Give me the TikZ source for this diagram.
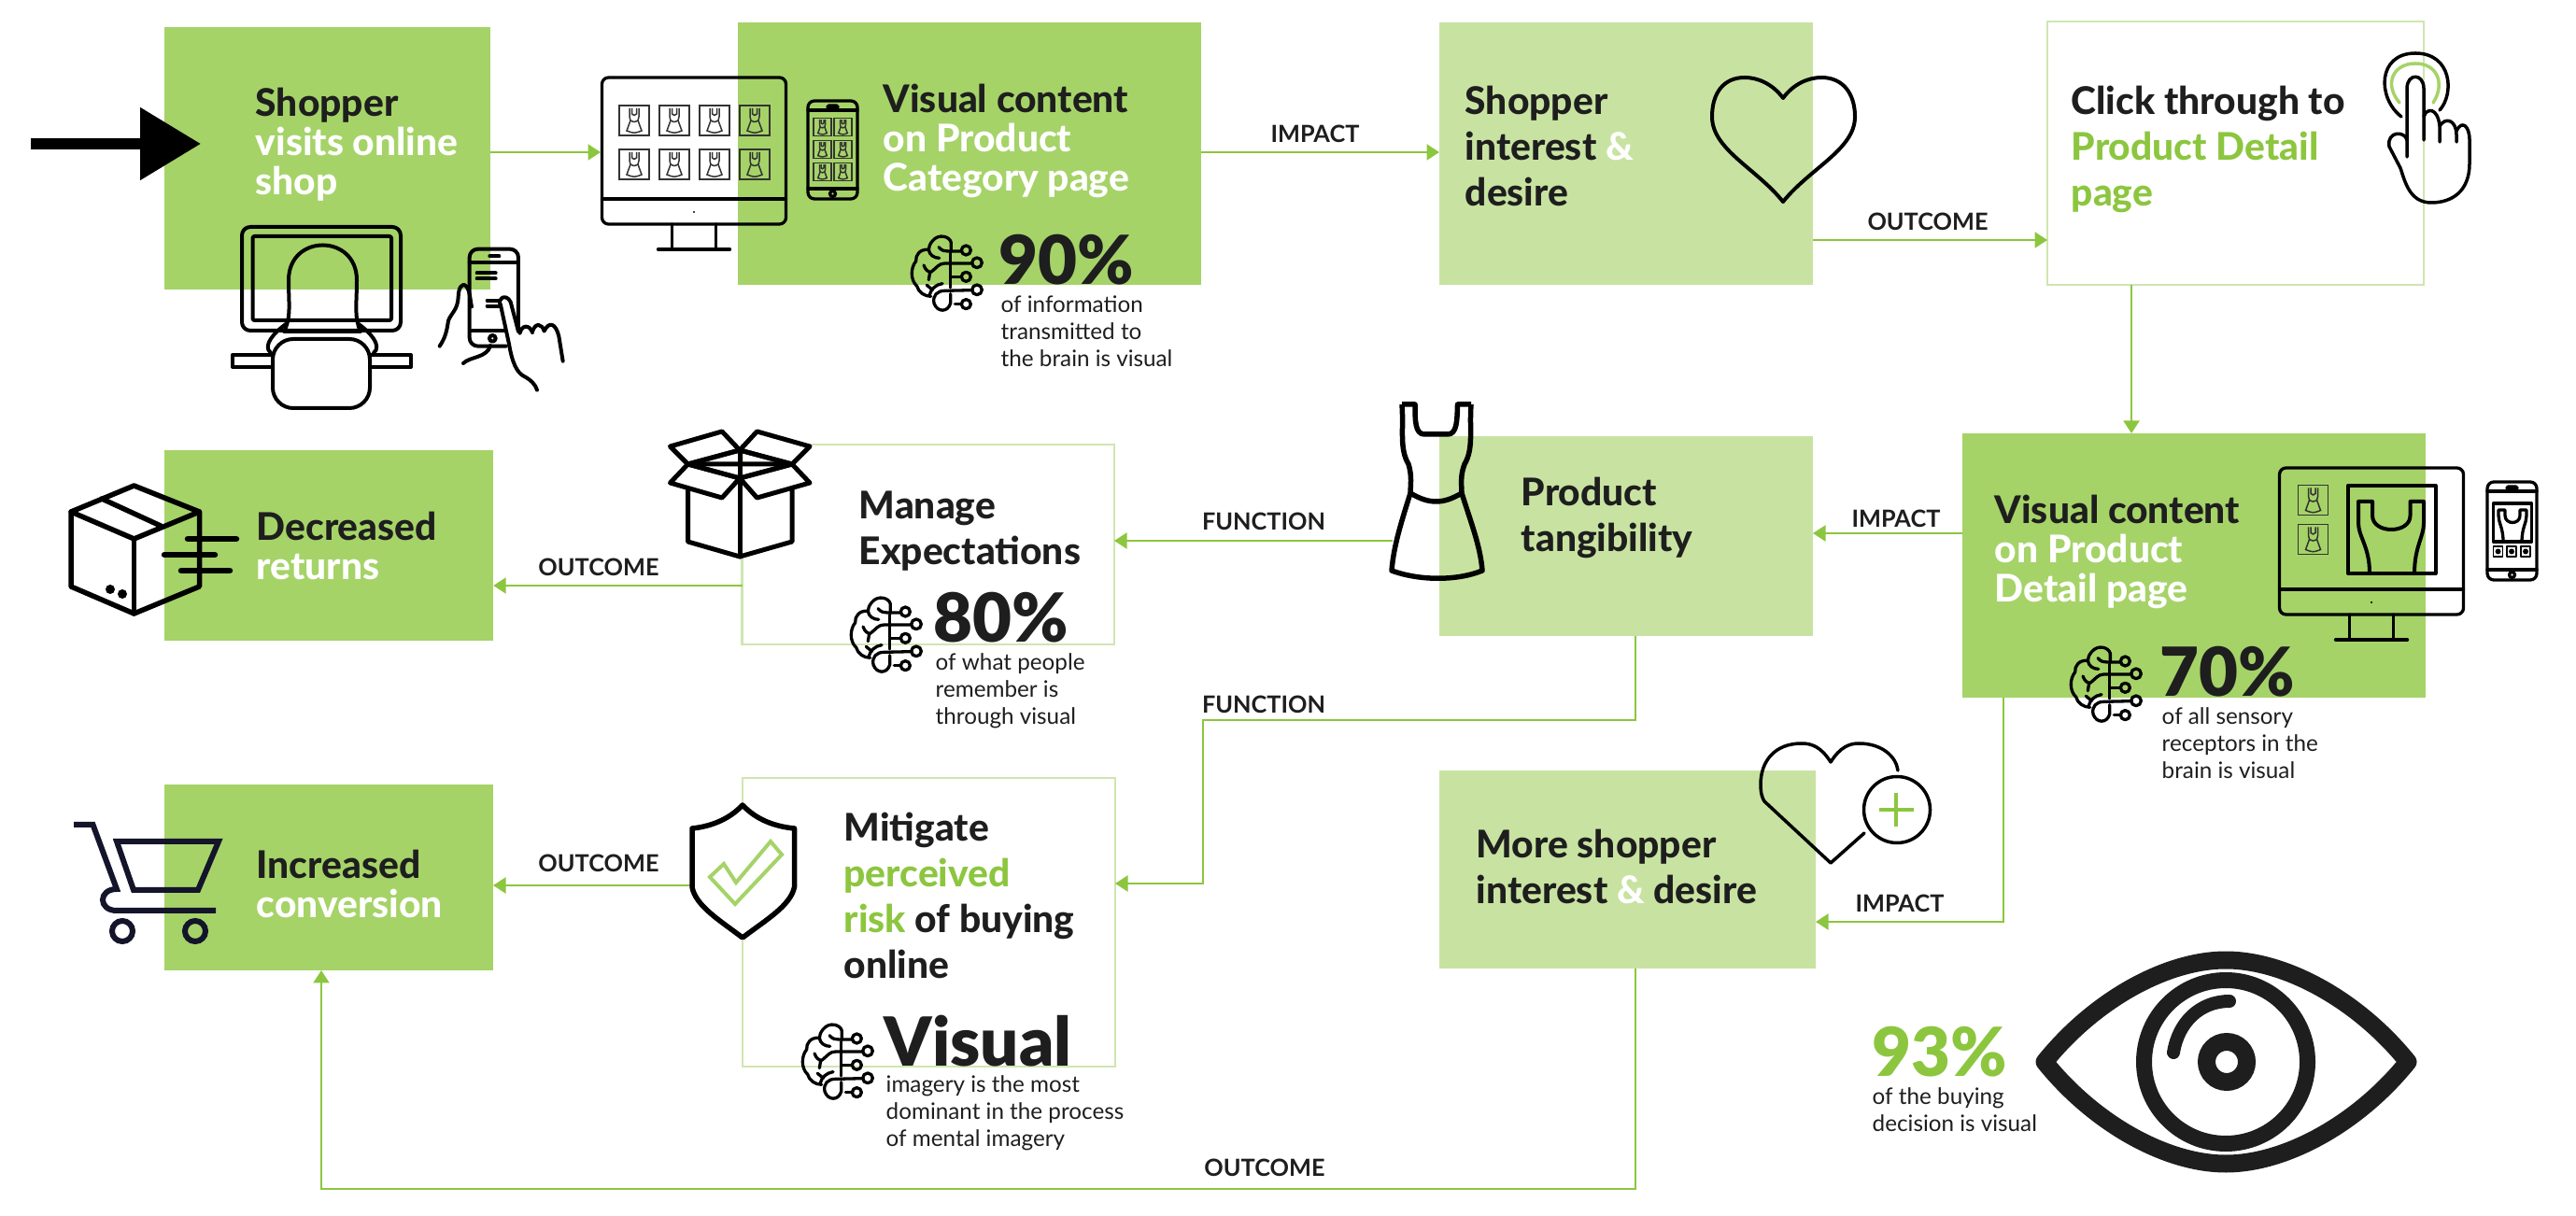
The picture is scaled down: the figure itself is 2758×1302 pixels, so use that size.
\documentclass[tikz,border=0pt]{standalone}
\usepackage{fontspec}
\usepackage{tikz}
\usetikzlibrary{arrows.meta}
\setmainfont{Lato}
\newfontfamily\statfont{Lato Black}
\newfontfamily\headfont{Lato Heavy}
\definecolor{boxdark}{HTML}{A5D368}
\definecolor{boxlight}{HTML}{C8E3A1}
\definecolor{boxedge}{HTML}{CFE6B0}
\definecolor{linkgreen}{HTML}{8CC63F}
\definecolor{ink}{HTML}{1E1E1E}
\definecolor{cartink}{HTML}{14142B}
\tikzset{
  dark/.style={fill=boxdark, anchor=north west, inner sep=0, outer sep=0},
  light/.style={fill=boxlight, anchor=north west, inner sep=0, outer sep=0},
  plain/.style={draw=boxedge, line width=0.25mm, anchor=north west, inner sep=0, outer sep=0},
  link/.style={draw=linkgreen, line width=0.22mm, -{Triangle[length=1.35mm,width=1.7mm]}},
  lbl/.style={font=\fontsize{7.2}{8}\selectfont\bfseries, text=ink, inner sep=0},
  head/.style={font=\fontsize{11.6}{11.95}\headfont, text=ink, align=left, anchor=west, inner sep=0},
  headwide/.style={head, font=\fontsize{11.6}{13.94}\headfont},
  stat/.style={font=\fontsize{20.6}{22}\statfont, text=ink, anchor=base west, inner sep=0},
  sub/.style={font=\fontsize{6.9}{8.3}\selectfont, text=ink, align=left, anchor=west, inner sep=0},
  ico/.style={draw=black, line width=0.4mm, line cap=round, line join=round},
  icothin/.style={draw=black, line width=0.33mm, line cap=round, line join=round},
  minidress/.pic={
    \draw[draw=black!80, line width=0.15mm] (-16,-16) rectangle (16,16);
    \draw[draw=black!80, line width=0.15mm] (-5,-13) -- (-5,-4) -- (-4,0) -- (-8,11) .. controls (0,14) .. (8,11) -- (4,0) -- (5,-4) -- (5,-13);
    \draw[draw=black!80, line width=0.15mm] (-2.5,-13) -- (-2.5,-7) .. controls (0,-5) .. (2.5,-7) -- (2.5,-13);
    \draw[draw=black!80, line width=0.15mm] (-4,0) .. controls (0,2) .. (4,0);
  },
  phone/.pic={
    \draw[icothin, rounded corners=0.7mm] (0,0) rectangle (53,105);
    \draw[icothin] (0,10) -- (53,10);
    \draw[icothin] (0,94) -- (53,94);
    \draw[icothin, rounded corners=0.15mm] (21,5) rectangle (32,8);
    \draw[icothin] (26.5,99.5) circle (3);
  },
  screen/.pic={
    \draw[icothin, rounded corners=0.7mm] (0,0) rectangle (197,157);
    \draw[icothin] (0,130) -- (197,130);
    \fill (98.5,144) circle (1.2);
    \draw[icothin] (75,157) -- (75,184);
    \draw[icothin] (122,157) -- (122,184);
    \draw[icothin] (60,184) -- (137,184);
  },
  brain/.pic={
    \begin{scope}[scale=0.3333, shift={(-33,-22)}]
      \draw[icothin] (160,75) -- (160,45) .. controls (155,25) and (120,15) .. (100,40) .. controls (92,50) and (88,58) .. (88,68) .. controls (60,65) and (45,85) .. (47,105) .. controls (30,125) and (28,165) .. (50,185) .. controls (55,205) and (75,218) .. (95,218);
      \draw[icothin] (88,68) .. controls (90,85) and (105,95) .. (122,95);
      \draw[icothin] (120,60) .. controls (130,72) and (140,73) .. (150,73) -- (193,73);
      \draw[icothin] (208,70) circle (15);
      \draw[icothin] (72,118) .. controls (78,135) and (88,140) .. (95,140) .. controls (115,125) and (120,112) .. (140,112) -- (226,112);
      \draw[icothin] (243,110) circle (16);
      \draw[icothin] (92,140) -- (88,165);
      \draw[icothin] (158,80) -- (158,190);
      \draw[icothin] (158,155) -- (192,155);
      \draw[icothin] (208,155) circle (15);
      \draw[icothin] (228,198) -- (140,200) .. controls (115,200) and (100,215) .. (105,240) .. controls (115,270) and (150,270) .. (158,240) -- (158,210);
      \draw[icothin] (243,197) circle (16);
      \draw[icothin] (132,177) .. controls (110,180) and (95,195) .. (90,215);
      \draw[icothin] (82,182) -- (100,197);
      \draw[icothin] (172,243) -- (192,243);
      \draw[icothin] (208,243) circle (15);
    \end{scope}
  }
}
\begin{document}
\begin{tikzpicture}[x=0.1mm, y=-0.1mm]
\useasboundingbox (0,0) rectangle (2758,1302);

\node[dark, minimum width=34.95mm, minimum height=28.1mm] (shopper) at (175.5,29) {};
\node[dark, minimum width=49.6mm, minimum height=28.1mm] (category) at (790,24) {};
\node[light, minimum width=40mm, minimum height=28.1mm] (interest) at (1541,24) {};
\node[plain, minimum width=40.3mm, minimum height=28.2mm] (click) at (2192,23) {};
\node[dark, minimum width=49.6mm, minimum height=28.3mm] (detail) at (2101,464) {};
\node[light, minimum width=40mm, minimum height=21.4mm] (tangible) at (1541,467) {};
\node[plain, minimum width=39.85mm, minimum height=21.4mm] (manage) at (794.5,476) {};
\node[dark, minimum width=35.25mm, minimum height=20.4mm] (returns) at (175.7,482) {};
\node[dark, minimum width=35.2mm, minimum height=19.9mm] (conversion) at (176,840) {};
\node[plain, minimum width=39.9mm, minimum height=30.9mm] (mitigate) at (795,833) {};
\node[light, minimum width=40.3mm, minimum height=21.2mm] (more) at (1541,825) {};

\coordinate (entry) at (33,154);
\coordinate (entrytip) at (215,154);
\coordinate (screenleft) at (643,163);
\coordinate (dressleft) at (1491,579);
\coordinate (shieldleft) at (741,948);
\draw[line width=1.2mm, -{Triangle[length=6.5mm,width=7.5mm]}] (entry) -- (entrytip);

\draw[link] (shopper.east |- 0,163) -- (screenleft);
\draw[link] (category.east |- 0,163) -- (interest.west |- 0,163);
\draw[link] (interest.east |- 0,257) -- (click.west |- 0,257);
\draw[link] (click.south -| 2282,0) -- (detail.north -| 2282,0);
\draw[link] (detail.west |- 0,571) -- (tangible.east |- 0,571);
\draw[link] (dressleft) -- (manage.east |- 0,579);
\draw[link] (tangible.south -| 1751,0) -- (1751,771) -- (1288,771) -- (1288,946) -- (mitigate.east |- 0,946);
\draw[link] (manage.west |- 0,627) -- (returns.east |- 0,627);
\draw[link] (shieldleft) -- (conversion.east |- 0,948);
\draw[link] (more.south -| 1751,0) -- (1751,1273) -- (344,1273) -- (conversion.south -| 344,0);
\draw[link] (detail.south -| 2145,0) -- (2145,987) -- (more.east |- 0,987);

\node[lbl] (impacta) at (1408,143) {IMPACT};
\node[lbl] (outcomea) at (2064,237) {OUTCOME};
\node[lbl] (impactb) at (2030,555) {IMPACT};
\node[lbl] (functiona) at (1353,558) {FUNCTION};
\node[lbl] (functionb) at (1353,754) {FUNCTION};
\node[lbl] (outcomeb) at (641,607) {OUTCOME};
\node[lbl] (outcomec) at (641,924) {OUTCOME};
\node[lbl] (outcomed) at (1354,1250) {OUTCOME};
\node[lbl] (impactc) at (2034,967) {IMPACT};

\node[head] (shoppertxt) at (273,155) {Shopper\\\textcolor{white}{visits online}\\\textcolor{white}{shop}};
\node[head] (categorytxt) at (945,151) {Visual content\\\textcolor{white}{on Product}\\\textcolor{white}{Category page}};
\node[headwide] (interesttxt) at (1568,156) {Shopper\\interest \textcolor{white}{\&}\\desire};
\node[headwide] (clicktxt) at (2217,160) {Click through to\\\textcolor{linkgreen}{Product Detail}\\\textcolor{linkgreen}{page}};
\node[head] (detailtxt) at (2135,591) {Visual content\\\textcolor{white}{on Product}\\\textcolor{white}{Detail page}};
\node[headwide] (tangibletxt) at (1628,554) {Product\\tangibility};
\node[headwide] (managetxt) at (919,569) {Manage\\Expectations};
\node[head] (returnstxt) at (274,584) {Decreased\\\textcolor{white}{returns}};
\node[head] (conversiontxt) at (274,946.5) {Increased\\\textcolor{white}{conversion}};
\node[headwide] (mitigatetxt) at (903,959) {Mitigate\\\textcolor{linkgreen}{perceived}\\\textcolor{linkgreen}{risk} of buying\\online};
\node[headwide] (moretxt) at (1580,927.5) {More shopper\\interest \textcolor{white}{\&} desire};

\node[stat] (statninety) at (1069,305) {90\%};
\node[sub] (subninety) at (1071,354.5) {of information\\transmitted to\\the brain is visual};
\node[stat] (statseventy) at (2312,746) {70\%};
\node[sub] (subseventy) at (2314,795.5) {of all sensory\\receptors in the\\brain is visual};
\node[stat] (stateighty) at (999,688) {80\%};
\node[sub] (subeighty) at (1001,740) {of what people\\remember is\\through visual};
\node[stat] (statvisual) at (946,1141) {Visual};
\node[sub] (subvisual) at (948,1192) {imagery is the most\\dominant in the process\\of mental imagery};
\node[stat, text=linkgreen] (statbuying) at (2004,1152) {93\%};
\node[sub] (subbuying) at (2004,1188) {of the buying\\decision is visual};

\pic at (976,252) {brain};
\pic at (2217,692) {brain};
\pic at (911,639) {brain};
\pic at (859,1096) {brain};

\draw[ico, rounded corners=0.9mm] (259,243) rectangle (429,354);
\draw[ico, rounded corners=0.2mm] (270.5,253) rectangle (419,343);
\draw[ico] (304,355) .. controls (312,340) and (309,325) .. (309,300) .. controls (309,250) and (382,250) .. (382,300) .. controls (382,325) and (379,340) .. (386,355) -- cycle;
\draw[ico] (306,347) .. controls (295,355) and (280,370) .. (290,378);
\draw[ico] (384,347) .. controls (395,355) and (410,370) .. (400,378);
\draw[ico] (292,380) -- (249,380) -- (249,393) -- (292,393);
\draw[ico] (396,380) -- (440,380) -- (440,393) -- (396,393);
\draw[ico, rounded corners=2.2mm] (292,363) rectangle (396,437);

\begin{scope}[shift={(460,255)}, scale=0.3333]
\draw[ico, rounded corners=0.9mm] (245,347) -- (128,347) -- (128,35) -- (285,35) -- (285,295);
\draw[ico] (128,77) -- (285,77);
\draw[ico] (135,298) -- (240,298);
\draw[ico] (202,322) circle (10);
\draw[ico] (193,58) -- (223,58);
\draw[ico] (152,112) -- (212,112);
\draw[ico] (152,130) -- (212,130);
\draw[ico] (185,200) -- (225,200);
\draw[ico] (185,218) -- (225,218);
\draw[ico] (32,347) .. controls (50,320) and (55,300) .. (60,265) .. controls (70,240) and (90,230) .. (92,190) .. controls (92,160) and (105,140) .. (118,155) .. controls (130,170) and (130,200) .. (135,220);
\draw[ico] (108,402) .. controls (130,380) and (185,385) .. (195,345);
\draw[ico] (228,215) .. controls (215,195) and (245,175) .. (260,205) -- (285,300);
\draw[ico] (290,305) .. controls (295,280) and (320,275) .. (330,303);
\draw[ico] (330,300) .. controls (340,270) and (360,275) .. (368,298);
\draw[ico] (368,298) .. controls (385,265) and (405,275) .. (415,315) -- (428,395);
\draw[ico] (228,215) -- (255,340) .. controls (265,400) and (280,430) .. (300,442) .. controls (325,455) and (340,470) .. (345,488);
\end{scope}

\pic at (644.5,83) {screen};
\pic at (679,129) {minidress};
\pic at (722,129) {minidress};
\pic at (765,129) {minidress};
\pic at (808,129) {minidress};
\pic at (679,176) {minidress};
\pic at (722,176) {minidress};
\pic at (765,176) {minidress};
\pic at (808,176) {minidress};
\pic at (865,108) {phone};
\pic[scale=0.6] at (880.5,136) {minidress};
\pic[scale=0.6] at (902.5,136) {minidress};
\pic[scale=0.6] at (880.5,160) {minidress};
\pic[scale=0.6] at (902.5,160) {minidress};
\pic[scale=0.6] at (880.5,184) {minidress};
\pic[scale=0.6] at (902.5,184) {minidress};

\draw[ico] (1909,216) .. controls (1880,180) and (1833,160) .. (1833,125) .. controls (1833,100) and (1845,83) .. (1868,83) .. controls (1882,83) and (1898,90) .. (1909,105) .. controls (1920,90) and (1936,83) .. (1950,83) .. controls (1973,83) and (1986,100) .. (1986,125) .. controls (1986,160) and (1938,180) .. (1909,216);

\draw[ico, line width=0.35mm] (2571,125) .. controls (2545,105) and (2545,57) .. (2586,57) .. controls (2625,57) and (2628,100) .. (2612,118);
\draw[draw=boxdark, line width=0.35mm, line cap=round] (2569,110) .. controls (2552,90) and (2562,68) .. (2586,68) .. controls (2610,68) and (2618,90) .. (2605,110);
\draw[ico, line width=0.35mm] (2577,168) -- (2577,95) .. controls (2577,78) and (2595,78) .. (2595,95) -- (2595,150);
\draw[ico, line width=0.35mm] (2595,125) .. controls (2598,115) and (2610,115) .. (2612,135) -- (2612,152);
\draw[ico, line width=0.35mm] (2612,135) .. controls (2618,125) and (2630,128) .. (2630,145) -- (2630,152);
\draw[ico, line width=0.35mm] (2630,140) .. controls (2636,128) and (2644,135) .. (2644,150) -- (2644,175) .. controls (2644,205) and (2625,217) .. (2603,217) .. controls (2580,217) and (2575,195) .. (2570,180) -- (2558,157) .. controls (2555,140) and (2575,140) .. (2577,150);

\pic at (2440.5,501) {screen};
\pic at (2476.5,535.5) {minidress};
\pic at (2476.5,577.5) {minidress};
\draw[ico] (2514,520) rectangle (2607.5,614);
\draw[ico, line cap=butt] (2537,614) .. controls (2537,585) and (2525,575) .. (2525,560) -- (2525,537) -- (2540,537) -- (2540,552) .. controls (2540,572) and (2580.5,572) .. (2580.5,552) -- (2580.5,537) -- (2595,537) -- (2595,560) .. controls (2595,575) and (2585,585) .. (2585,614);
\pic at (2663,516) {phone};
\draw[icothin] (2669.5,539) rectangle (2710.5,580);
\draw[icothin, line cap=butt] (2680,580) .. controls (2680,565) and (2675,560) .. (2675,552) -- (2675,546) -- (2682,546) -- (2682,552) .. controls (2682,562) and (2698,562) .. (2698,552) -- (2698,546) -- (2705,546) -- (2705,552) .. controls (2705,560) and (2700,565) .. (2700,580);
\draw[icothin, line width=0.15mm] (2669.5,585) rectangle (2679.5,596);
\draw[icothin, line width=0.15mm] (2684,585) rectangle (2694,596);
\draw[icothin, line width=0.15mm] (2699,585) rectangle (2709,596);
\fill (2674.5,590.5) circle (3);
\fill (2689,590.5) circle (3);
\fill (2704,590.5) circle (3);

\draw[ico, line width=0.55mm] (76,548) -- (143.5,520) -- (213.5,548) -- (143.5,577) -- cycle;
\draw[ico, line width=0.55mm] (76,548) -- (76,628) -- (143.5,657) -- (213.5,628) -- (213.5,548);
\draw[ico, line width=0.55mm] (143.5,577) -- (143.5,657);
\draw[ico, line width=0.55mm] (109,534) -- (172,563);
\draw[ico, line width=0.65mm] (201,577) -- (253,577);
\draw[ico, line width=0.65mm] (176,594) -- (230,594);
\draw[ico, line width=0.65mm] (194,611) -- (246,611);
\fill (118,631) circle (5);
\fill (131,636) circle (5);

\draw[ico, line width=0.5mm, fill=white] (736.5,497) -- (736.5,580) -- (792,596) -- (848,580) -- (848,497) -- cycle;
\draw[ico, line width=0.5mm, fill=white] (792,482) -- (773,462) -- (717.5,478) -- (736.5,497) -- cycle;
\draw[ico, line width=0.5mm, fill=white] (792,482) -- (810.5,462) -- (867,478) -- (848,497) -- cycle;
\draw[ico, line width=0.5mm, fill=white] (736.5,497) -- (717.5,517) -- (773,533) -- (792,512) -- cycle;
\draw[ico, line width=0.5mm, fill=white] (848,497) -- (867,517) -- (810.5,533) -- (792,512) -- cycle;
\draw[ico, line width=0.5mm] (792,482) -- (848,497) -- (792,512) -- (736.5,497) -- cycle;
\draw[ico, line width=0.5mm] (792,482) -- (792,596);

\draw[ico, line width=0.55mm, line cap=butt] (1501,433) .. controls (1503,460) and (1498,480) .. (1508,497) .. controls (1512,510) and (1510,520) .. (1510,528) .. controls (1500,560) and (1492,585) .. (1490,611) .. controls (1520,622) and (1560,622) .. (1587,611) .. controls (1585,585) and (1575,560) .. (1565,528) .. controls (1565,520) and (1563,510) .. (1568,497) .. controls (1578,480) and (1573,460) .. (1575,433);
\draw[ico, line width=0.55mm, line cap=butt] (1501,433) -- (1515,433) .. controls (1515,450) and (1515,465) .. (1525,465) -- (1550,465) .. controls (1560,465) and (1560,450) .. (1560.5,433) -- (1575,433);
\draw[ico, line width=0.55mm] (1510,528) .. controls (1530,540) and (1545,540) .. (1565,528);

\draw[ico, line width=0.55mm, fill=white] (795,862) .. controls (780,878) and (760,885) .. (741,887) -- (741,950) .. controls (745,970) and (770,985) .. (795,1004) .. controls (820,985) and (846,970) .. (850.5,950) -- (850.5,887) .. controls (830,885) and (810,878) .. (795,862);
\draw[draw=boxdark, line width=0.4mm] (760,939) -- (787,968) -- (837,915) -- (825,901) -- (788,945) -- (775,925) -- cycle;

\draw[draw=cartink, line width=0.6mm] (79,883) -- (99.5,883) -- (125,952) .. controls (105,952) and (105,975) .. (125,975) -- (231,975);
\draw[draw=cartink, line width=0.6mm] (125,901) -- (234,901) -- (212,953) -- (143,953) -- cycle;
\draw[draw=cartink, line width=0.6mm] (131,997) circle (11);
\draw[draw=cartink, line width=0.6mm] (209,997) circle (11);

\draw[ico, line width=0.35mm] (2032,825) .. controls (2030,810) and (2015,796) .. (1990,796) .. controls (1980,796) and (1970,800) .. (1960,816) .. controls (1950,800) and (1940,796) .. (1929,796) .. controls (1900,796) and (1885,815) .. (1885,840) .. controls (1885,850) and (1887,855) .. (1889,858) -- (1960,924) -- (1996,892);
\draw[ico, line width=0.35mm] (2031,867) circle (35.5);
\draw[draw=linkgreen, line width=0.4mm] (2012,867) -- (2049,867);
\draw[draw=linkgreen, line width=0.4mm] (2030,849) -- (2030,885);

\draw[draw=ink, line width=1.9mm, line join=round] (2189,1137) .. controls (2243,1070) and (2320,1028) .. (2383,1028) .. controls (2446,1028) and (2524,1070) .. (2578,1137) .. controls (2524,1204) and (2446,1246) .. (2383,1246) .. controls (2320,1246) and (2243,1204) .. (2189,1137) -- cycle;
\draw[draw=ink, line width=1.7mm] (2383,1137) circle (87.5);
\draw[draw=ink, line width=1.9mm] (2384,1137) circle (21.5);
\draw[draw=ink, line width=1.4mm, line cap=round] (2327,1127) .. controls (2332,1095) and (2355,1072) .. (2387,1072);
\end{tikzpicture}
\end{document}
